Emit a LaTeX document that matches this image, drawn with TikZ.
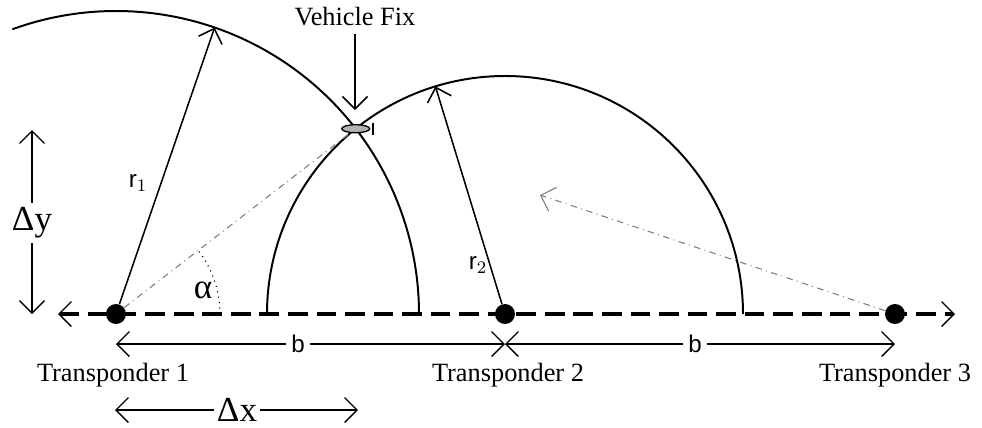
\documentclass[tikz,border=0pt]{standalone}
\usepackage{fontspec}
\setmainfont{Liberation Serif}
\newfontfamily\labelfont{Liberation Sans}
\usetikzlibrary{arrows.meta,calc}

\begin{document}
\begin{tikzpicture}[
  x=0.016cm, y=0.016cm,
  font=\fontsize{12}{14}\selectfont, >={Straight Barb[length=2mm]},
  circ/.style={line width=0.9pt},
  rline/.style={line width=0.7pt, ->},
  base/.style={line width=1.6pt, dash pattern=on 9pt off 4pt},
  guide/.style={gray, dash dot, line width=0.5pt},
  dim/.style={line width=0.6pt, <->},
  transp/.style={circle, fill=black, minimum size=3.2mm, inner sep=0pt},
  lbl/.style={fill=white, inner sep=2pt},
  big/.style={font=\fontsize{16}{18}\selectfont},
  sans/.style={font=\labelfont\fontsize{11}{13}\selectfont}
]
\useasboundingbox (0,0) rectangle (982,427);

% transponders on the baseline
\coordinate (baseL) at (58,113);
\coordinate (baseR) at (955,113);
\draw[base, {Straight Barb[length=2mm,line width=0.6pt]}-{Straight Barb[length=2mm,line width=0.6pt]}] (baseL) -- (baseR);

\node[transp] (T1) at (116,113) {};
\node[transp] (T2) at (505,113) {};
\node[transp] (T3) at (895,113) {};

\node (t1lab) at (113,52) {Transponder 1};
\node (t2lab) at (508,52) {Transponder 2};
\node (t3lab) at (895,52) {Transponder 3};

% range circles
\draw[circ] ($(T1)+(110:303)$) arc[start angle=110, end angle=0, radius=303];
\draw[circ] ($(T2)+(180:238)$) arc[start angle=180, end angle=0, radius=238];

\coordinate (fix) at ($(T1)+(37.7:303)$);
\coordinate (r1end) at ($(T1)+(71:303)$);
\coordinate (r2end) at ($(T2)+(107:238)$);

\draw[rline] (T1) -- (r1end);
\draw[rline] (T2) -- (r2end);
\node[sans] (r1lab) at (138,244) {r$_1$};
\node[sans] (r2lab) at (478,162) {r$_2$};

% bearing lines
\coordinate (echo) at (540,232);
\draw[guide] (T1) -- (fix);
\draw[guide, ->] (T3) -- (echo);
\draw[dotted, line width=0.5pt] ($(T1)+(104,0)$) arc[start angle=0, end angle=37.7, radius=104];
\node[big] (alpha) at (203,137) {α};

% vehicle
\draw[fill=gray!60, line width=0.6pt] (fix) ellipse [x radius=14, y radius=4];
\draw[line width=0.8pt] ($(fix)+(17,-6)$) -- ($(fix)+(17,6)$);
\node (vflab) at (355,410) {Vehicle Fix};
\coordinate (vftip) at (355,317);
\draw[line width=0.7pt, ->] (vflab) -- (vftip);

% dimensions
\coordinate (dytop) at (32,297);
\coordinate (dybot) at (32,113);
\draw[dim] (dytop) -- (dybot);
\node[lbl, big] (dylab) at (32,204) {Δy};

\coordinate (bA) at (116,83);
\coordinate (bB) at (505,83);
\coordinate (bC) at (895,83);
\node[lbl, sans] (b1) at (298,83) {b};
\node[lbl, sans] (b2) at (695,83) {b};
\draw[line width=0.6pt, ->] (b1) -- (bA);
\draw[line width=0.6pt, ->] (b1) -- (bB);
\draw[line width=0.6pt, ->] (b2) -- (bB);
\draw[line width=0.6pt, ->] (b2) -- (bC);

\coordinate (dxA) at (115,17);
\coordinate (dxB) at (358,17);
\node[big, inner sep=1pt] (dxlab) at (237,17) {Δx};
\draw[line width=0.6pt, ->] (dxlab) -- (dxA);
\draw[line width=0.6pt, ->] (dxlab) -- (dxB);

\end{tikzpicture}
\end{document}
